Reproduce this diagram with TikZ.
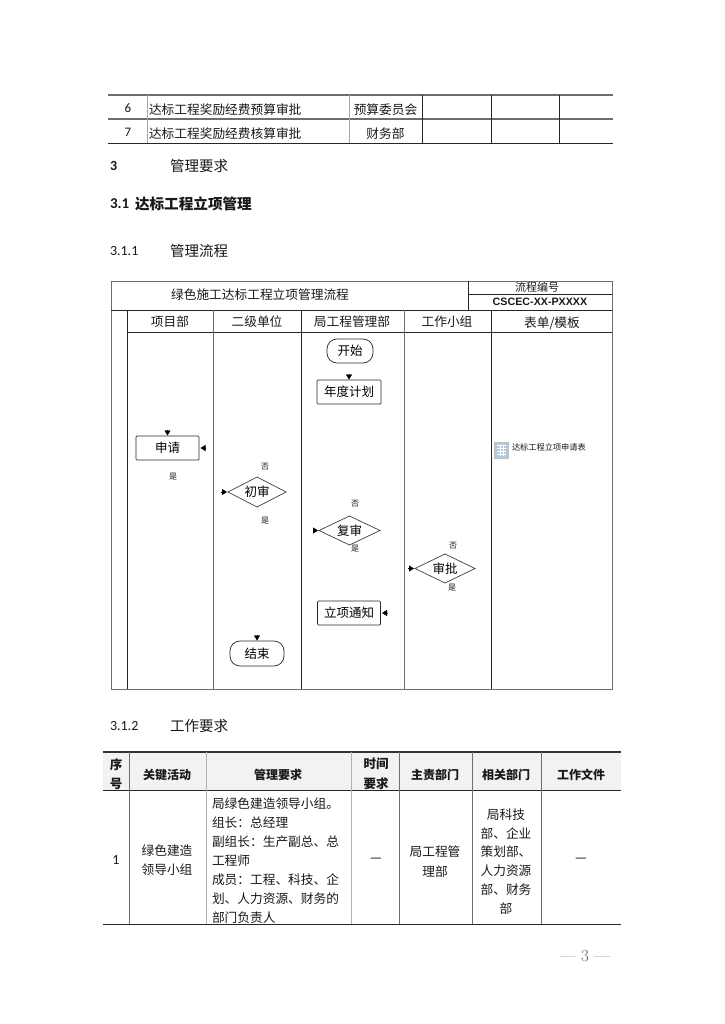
\documentclass[tikz,border=0pt]{standalone}
\usepackage{fontspec}
\setmainfont{Noto Sans CJK SC}
\newfontfamily\latin{Carlito}
\newfontfamily\arial{Liberation Sans}
\newfontfamily\lmserif{Latin Modern Roman}
\usetikzlibrary{positioning,arrows.meta,shapes.geometric}
\newcommand{\fs}[1]{\fontsize{#1}{#1}\selectfont}
\definecolor{linegray}{HTML}{6E6E6E}
\definecolor{iconblue}{HTML}{B4C8E2}
\tikzset{
  txt/.style={inner sep=0pt,outer sep=0pt,text=black!90,font=\fs{12.7}},
  small/.style={txt,font=\fs{8}},
  head/.style={txt,font=\fs{14.5}},
  lhead/.style={txt,font=\bfseries\fs{12}},
  para/.style={txt,align=#1,font=\fontsize{12.7}{18.9}\selectfont},
  stepbox/.style={draw=black!85,line width=.7pt,rounded corners=1pt,inner sep=0pt,outer sep=0pt,minimum width=63pt,minimum height=24pt,font=\fs{12.5}},
  endbox/.style={stepbox,rounded corners=10pt},
  check/.style={draw=black!75,line width=.7pt,diamond,aspect=2,inner sep=0pt,outer sep=0pt,minimum width=60pt,minimum height=29pt,font=\fs{12.5}},
  tip/.style={-{Triangle[length=5pt,width=6pt]},line width=.4pt,black},
  thin line/.style={draw=linegray,line width=.7pt},
  dark line/.style={draw=black!85,line width=.9pt}
}
\begin{document}
\begin{tikzpicture}[x=1pt,y=-1pt]
\useasboundingbox[fill=white] (0,0) rectangle (724,1024);
% top table
\draw[line width=1.2pt,draw=linegray] (108,95) -- (613,95);
\draw[line width=1.2pt,draw=linegray] (108,119) -- (613,119);
\draw[dark line] (108,143) -- (613,143);
\foreach \x in {147,349} \draw[line width=1pt,draw=black!35] (\x,95) -- (\x,143);
\foreach \x in {422,491,559} \draw[dark line,line width=.7pt] (\x,95) -- (\x,143);
\node[txt,font=\latin\fs{13}] (rowsix) at (128,108) {6};
\node[txt,font=\latin\fs{13}] (rowseven) at (128,132) {7};
\node[txt,anchor=west] (budget) at (149,109.5) {达标工程奖励经费预算审批};
\node[txt,anchor=west] (audit) at (149,134) {达标工程奖励经费核算审批};
\node[txt] (budgetdept) at (385.5,109.5) {预算委员会};
\node[txt] (auditdept) at (385.5,134) {财务部};
% headings
\node[txt,anchor=west,font=\latin\bfseries\fs{14}] (secnum) at (110,166) {3};
\node[head,anchor=west] (sectitle) at (170,166) {管理要求};
\node[txt,anchor=west,font=\latin\bfseries\fs{15}] (subnum) at (110,204) {3.1};
\node[head,anchor=west,font=\bfseries\fs{14.6}] (subtitle) at (135,204) {达标工程立项管理};
\node[txt,anchor=west,font=\latin\fs{14}] (flownum) at (110,251) {3.1.1};
\node[head,anchor=west] (flowtitle) at (170,251) {管理流程};
% flow frame
\draw[thin line,line width=1pt] (111,281) rectangle (612,689);
\draw[dark line] (111,310) -- (612,310);
\draw[dark line,line width=.7pt] (127,332) -- (612,332);
\draw[dark line] (127,310) -- (127,689);
\draw[thin line] (213,310) -- (213,689);
\draw[dark line] (301,310) -- (301,689);
\draw[thin line] (404,310) -- (404,689);
\draw[dark line] (491,310) -- (491,689);
\draw[dark line] (468,281) -- (468,310);
\draw[dark line] (468,294.5) -- (612,294.5);
\node[txt] (flowname) at (260,295) {绿色施工达标工程立项管理流程};
\node[txt,font=\fs{11}] (codelabel) at (537,287.5) {流程编号};
\node[txt,font=\arial\bfseries\fs{10.7}] (codevalue) at (540,302) {CSCEC-XX-PXXXX};
\node[txt] (project) at (170,321.5) {项目部};
\node[txt] (second) at (257,321.5) {二级单位};
\node[txt] (bureau) at (352,321.5) {局工程管理部};
\node[txt] (team) at (447,321.5) {工作小组};
\node[txt] (forms) at (552,323) {表单/模板};
% flow steps
\node[endbox,minimum width=46pt] (open) at (350,351) {开始};
\node[stepbox,minimum width=64pt] (plan) at (349,392) {年度计划};
\node[stepbox] (apply) at (167.5,448) {申请};
\node[check,minimum width=58pt,minimum height=30pt] (first) at (257,492) {初审};
\node[check,minimum width=61pt] (again) at (349.5,530.5) {复审};
\node[check] (approve) at (445,568.5) {审批};
\node[stepbox] (notice) at (349,613) {立项通知};
\node[endbox,minimum width=54pt,minimum height=25pt] (finish) at (257,653.5) {结束};
\draw[tip] ([yshift=6pt]plan.north) -- ([yshift=.5pt]plan.north);
\draw[tip] ([yshift=6pt]apply.north) -- ([yshift=.5pt]apply.north);
\draw[tip] ([yshift=6pt]finish.north) -- ([yshift=.5pt]finish.north);
\draw[tip] ([xshift=7pt]apply.east) -- ([xshift=1.5pt]apply.east);
\draw[tip] ([xshift=7pt]notice.east) -- ([xshift=1.5pt]notice.east);
\draw[tip] ([xshift=-7pt]first.west) -- ([xshift=-1pt]first.west);
\draw[tip] ([xshift=-6pt]again.west) -- ([xshift=-1pt]again.west);
\draw[tip] ([xshift=-7pt]approve.west) -- ([xshift=-1pt]approve.west);
\node[small] (yesapply) at (173,477) {是};
\node[small] (nofirst) at (265,467) {否};
\node[small] (yesfirst) at (265,521) {是};
\node[small] (noagain) at (355,504) {否};
\node[small] (yesagain) at (355,549) {是};
\node[small] (noapprove) at (453,546) {否};
\node[small] (yesapprove) at (452,588) {是};
% form icon
\draw[draw=black!25,fill=iconblue] (494,442) rectangle (508,458);
\foreach \y in {445,448,451,454} \draw[white,line width=.6pt] (497,\y) -- (506,\y);
\foreach \x in {500,503} \draw[white,line width=.6pt] (\x,445) -- (\x,456);
\node[txt,anchor=west,font=\fs{8.2}] (formname) at (512,447) {达标工程立项申请表};
% second table heading
\node[txt,anchor=west,font=\latin\fs{14}] (worknum) at (110,726) {3.1.2};
\node[head,anchor=west] (worktitle) at (170,726) {工作要求};
% second table
\fill[black!5] (103,752) rectangle (621,790);
\draw[draw=black!80,line width=1.4pt] (103,752) -- (621,752);
\draw[dark line] (103,790) -- (621,790);
\draw[dark line] (103,924) -- (621,924);
\draw[thin line,line width=.8pt] (129,752) -- (129,924);
\draw[draw=black!30,line width=.8pt] (206,752) -- (206,924);
\draw[draw=black!30,line width=.8pt] (351,752) -- (351,924);
\foreach \x in {399,472,541} \draw[thin line,line width=.8pt] (\x,752) -- (\x,924);
\node[lhead,align=center,font=\bfseries\fontsize{12.5}{19}\selectfont] (seq) at (116,774.5) {序\\号};
\node[lhead] (keyact) at (167,775) {关键活动};
\node[lhead] (manreq) at (278,775) {管理要求};
\node[lhead,align=center,font=\bfseries\fontsize{12.5}{20}\selectfont] (timereq) at (376,774) {时间\\要求};
\node[lhead] (maindept) at (435,775) {主责部门};
\node[lhead] (reldept) at (506,775) {相关部门};
\node[lhead] (workfile) at (581,775) {工作文件};
\node[txt,font=\latin\fs{14}] (rowone) at (116,860) {1};
\node[para=center] (group) at (167,860) {绿色建造\\领导小组};
\node[para=left,anchor=west] (members) at (212,860.5) {局绿色建造领导小组。\\组长：总经理\\副组长：生产副总、总\\工程师\\成员：工程、科技、企\\划、人力资源、财务的\\部门负责人};
\node[txt,font=\latin\fs{14}] (notime) at (376,860) {—};
\node[para=center,font=\fontsize{12.7}{20}\selectfont] (leaddept) at (435,862) {局工程管\\理部};
\node[para=center] (otherdept) at (506,861.5) {局科技\\部、企业\\策划部、\\人力资源\\部、财务\\部};
\node[txt,font=\latin\fs{14}] (nofile) at (581,860) {—};
% page number
\node[txt,text=black!60,font=\lmserif\fs{17}] (pagenum) at (585,956) {—\,\,3\,\,—};
\end{tikzpicture}
\end{document}
